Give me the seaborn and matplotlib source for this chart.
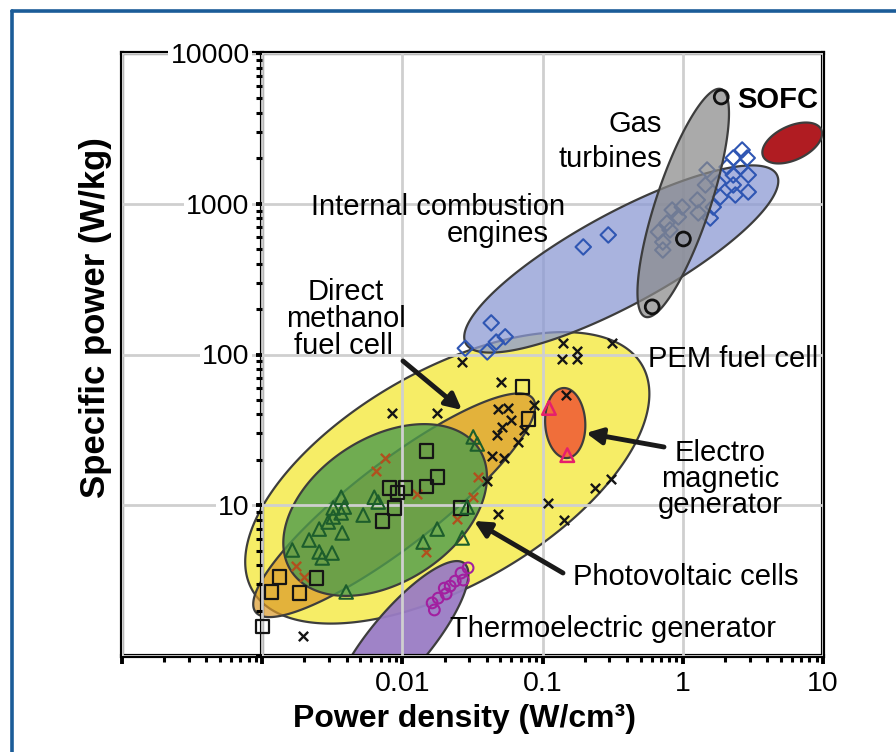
import numpy as np
import matplotlib
matplotlib.use("Agg")
import matplotlib.pyplot as plt
import seaborn as sns
from matplotlib.ticker import FixedLocator, FixedFormatter, LogLocator, NullFormatter
from matplotlib.lines import Line2D
from matplotlib.colors import to_rgba

sns.set_theme(style="white")
plt.rcParams["font.family"] = ["Liberation Sans", "DejaVu Sans"]

# ---------------- data (power density W/cm3, specific power W/kg) ----------------
pem_x = [0.0267, 0.140, 0.177, 0.138, 0.177, 0.313, 0.0507, 0.147, 0.0871, 0.0482, 0.0569,
         0.0597, 0.0515, 0.0474, 0.0740, 0.0670, 0.0438, 0.0532, 0.0403, 0.237, 0.308, 0.110,
         0.0482, 0.143, 0.00845, 0.0177, 0.00196]
pem_y = [89.1, 119, 105, 93.3, 93.3, 119, 65.7, 53.9, 46.2, 43.5, 44.2, 36.8, 33.0, 29.2, 31.6,
         26.3, 21.2, 20.6, 14.5, 13.0, 14.9, 10.3, 8.75, 7.98, 40.9, 40.9, 1.36]

dmfc_x = [0.00753, 0.00650, 0.01277, 0.0348, 0.0320, 0.0246, 0.0148, 0.00175, 0.00200]
dmfc_y = [20.6, 16.9, 11.9, 15.4, 11.3, 8.11, 4.90, 3.95, 3.34]

sq_x = [0.0148, 0.0177, 0.0148, 0.01047, 0.00806, 0.00918, 0.00874, 0.00718, 0.0262, 0.00132,
        0.00243, 0.00116, 0.00184, 0.00100, 0.0716, 0.0788]
sq_y = [22.9, 15.4, 13.4, 13.0, 13.0, 12.1, 9.59, 7.86, 9.59, 3.34, 3.29, 2.66, 2.62, 1.56, 60.9, 37.3]

pv_x = [0.00366, 0.00321, 0.00385, 0.00366, 0.00321, 0.00296, 0.00255, 0.00372, 0.00525, 0.00630,
        0.00672, 0.00216, 0.00164, 0.00255, 0.00268, 0.00315, 0.00397, 0.01406, 0.0177, 0.0290,
        0.0267, 0.0320, 0.0342]
pv_y = [11.3, 9.59, 9.73, 8.89, 8.36, 7.74, 6.95, 6.55, 8.61, 11.3, 10.5, 5.88, 5.05, 4.90, 4.47,
        4.82, 2.66, 5.70, 6.95, 9.73, 6.07, 28.4, 25.5]

te_x = [0.0294, 0.0262, 0.0272, 0.0238, 0.0219, 0.0199, 0.0205, 0.0180, 0.0163, 0.0169]
te_y = [3.84, 3.55, 3.19, 3.14, 2.91, 2.82, 2.58, 2.42, 2.25, 2.02]

em_x = [0.111, 0.150]
em_y = [44.2, 21.5]

ice_x = [0.195, 0.294, 0.0430, 0.0541, 0.0467, 0.0403, 0.0281, 2.65, 2.88, 2.29, 2.07, 2.57, 2.93,
         2.29, 1.79, 2.29, 2.93, 2.37, 1.85, 1.65, 1.57, 1.49, 1.45, 1.27, 1.29, 0.99, 0.84, 0.93,
         0.77, 0.67, 0.81, 0.72, 0.72]
ice_y = [517, 621, 162, 131, 121, 104, 110, 2273, 2012, 2012, 1753, 1753, 1552, 1552, 1373, 1332,
         1197, 1143, 1109, 951, 804, 1675, 1332, 1059, 869, 951, 909, 817, 745, 650, 670, 557, 493]

gt_x = [1.88, 1.01, 0.605]
gt_y = [5108, 584, 207]

# technology regions (centre in data units, semi-axes in decades, tilt in degrees)
ell_names = ["PEM fuel cell", "Direct methanol fuel cell", "Photovoltaic cells",
             "Electromagnetic generator", "Thermoelectric generator",
             "Internal combustion engines", "Gas turbines", "SOFC"]
ell_cx = [0.0209, 0.00874, 0.00753, 0.145, 0.00964, 0.364, 1.007, 6.03]
ell_cy = [15.2, 10.0, 9.30, 35.1, 1.276, 430, 1012, 2529]
ell_a = [1.605, 1.248, 0.799, 0.250, 0.713, 1.262, 0.856, 0.228]
ell_b = [0.763, 0.300, 0.514, 0.143, 0.214, 0.328, 0.193, 0.121]
ell_ang = [30, 37.6, 33, 93, 50, 28.5, 71.6, 25]

x_ticks = [1e-4, 1e-3, 1e-2, 1e-1, 1, 10]
x_labels = ["", "", "0.01", "0.1", "1", "10"]
y_ticks = [1, 10, 100, 1000, 10000]
y_labels = ["", "10", "100", "1000", "10000"]

# ---------------- styles ----------------
ell_fill = ["#f6ed66", "#dc9a2a", "#4f9c4c", "#f06e3a", "#9a7cc4", "#8c9ad4", "#8a8a8a", "#b01c22"]
ell_alpha = [1.0, 0.7, 0.8, 1.0, 0.95, 0.75, 0.72, 1.0]
ell_z = [1.0, 1.3, 1.6, 3.0, 1.8, 3.0, 3.5, 3.0]

W, H = 896, 752
fig = plt.figure(figsize=(W / 100, H / 100), dpi=100)
ax = fig.add_axes([122 / W, (H - 656) / H, 701 / W, 603 / H])
ax.set_xscale("log")
ax.set_yscale("log")
ax.set_xlim(1e-4, 10)
ax.set_ylim(1, 1e4)

# decade aspect in display units
xdec = 701 / 5.0
ydec = 603 / 4.0
kx = xdec / ydec


def ellipse_xy(cx, cy, a, b, ang):
    t = np.linspace(0, 2 * np.pi, 400)
    th = np.deg2rad(ang)
    u = a * np.cos(t) * np.cos(th) - b * np.sin(t) * np.sin(th)
    v = a * np.cos(t) * np.sin(th) + b * np.sin(t) * np.cos(th)
    return 10 ** (np.log10(cx) + u), 10 ** (np.log10(cy) + v * kx)


for i in range(len(ell_names)):
    ex, ey = ellipse_xy(ell_cx[i], ell_cy[i], ell_a[i], ell_b[i], ell_ang[i])
    ax.fill(ex, ey, facecolor=to_rgba(ell_fill[i], ell_alpha[i]),
            edgecolor="#3d3d3d", lw=1.6, zorder=ell_z[i])

# ---------------- markers ----------------
sns.scatterplot(x=pem_x, y=pem_y, ax=ax, marker="x", s=45, color="#151515", linewidth=1.7, zorder=5)
sns.scatterplot(x=dmfc_x, y=dmfc_y, ax=ax, marker="x", s=45, color="#b0501e", linewidth=1.7, zorder=5)
sns.scatterplot(x=sq_x, y=sq_y, ax=ax, marker="s", s=90, facecolors="none", edgecolor="#151515",
                linewidth=1.6, zorder=5)
sns.scatterplot(x=pv_x, y=pv_y, ax=ax, marker="^", s=95, facecolors="none", edgecolor="#1d5e2c",
                linewidth=1.5, zorder=5)
sns.scatterplot(x=te_x, y=te_y, ax=ax, marker="o", s=60, facecolors="none", edgecolor="#a21fa0",
                linewidth=1.5, zorder=5)
sns.scatterplot(x=em_x, y=em_y, ax=ax, marker="^", s=95, facecolors="none", edgecolor="#e61f6c",
                linewidth=1.8, zorder=5)
sns.scatterplot(x=ice_x, y=ice_y, ax=ax, marker="D", s=62, facecolors="none", edgecolor="#2f56b3",
                linewidth=1.5, zorder=3.2)
sns.scatterplot(x=gt_x, y=gt_y, ax=ax, marker="o", s=100, facecolors="none", edgecolor="#111111",
                linewidth=2.0, zorder=5)

# ---------------- axes styling ----------------
ax.set_axisbelow(False)
ax.grid(True, which="major", color="#cfcfcf", lw=2.0)
ax.grid(False, which="minor")
for side in ["left", "right", "top", "bottom"]:
    ax.spines[side].set_visible(True)
    ax.spines[side].set_color("black")
    ax.spines[side].set_linewidth(3)
ax.spines["left"].set_position(("data", 1e-3))
ax.add_artist(Line2D([0, 0], [0, 1], transform=ax.transAxes, color="black", lw=3,
                     clip_on=False, solid_capstyle="projecting", zorder=2.5))

ax.xaxis.set_major_locator(FixedLocator(x_ticks))
ax.xaxis.set_major_formatter(FixedFormatter(x_labels))
ax.xaxis.set_minor_locator(LogLocator(base=10, subs=np.arange(2, 10), numticks=20))
ax.xaxis.set_minor_formatter(NullFormatter())
ax.yaxis.set_major_locator(FixedLocator(y_ticks))
ax.yaxis.set_major_formatter(FixedFormatter(y_labels))
ax.yaxis.set_minor_locator(LogLocator(base=10, subs=np.arange(2, 10), numticks=20))
ax.yaxis.set_minor_formatter(NullFormatter())

ax.tick_params(axis="x", which="major", bottom=True, top=False, direction="out", length=6,
               width=2.8, labelsize=20.5, pad=5, colors="black")
ax.tick_params(axis="x", which="minor", bottom=True, top=False, direction="out", length=4.5,
               width=2.2, colors="black")
ax.tick_params(axis="y", which="major", left=True, right=False, direction="out", length=4,
               width=2.8, labelsize=20.5, pad=5, colors="black")
ax.tick_params(axis="y", which="minor", left=True, right=False, direction="out", length=4,
               width=2.2, colors="black")
for lbl in ax.get_yticklabels():
    lbl.set_bbox(dict(facecolor="white", edgecolor="none", pad=1.5))

ax.set_xlabel("Power density (W/cm³)", fontsize=23, fontweight="bold", color="black")
ax.set_ylabel("Specific power (W/kg)", fontsize=25, fontweight="bold", color="black")
ax.xaxis.set_label_coords(0.488, -0.080)
ax.yaxis.set_label_coords(-0.0143, 0.5605)


# ---------------- annotations (layout in figure pixels) ----------------
def fpx(px, py):
    return (px / W, 1 - py / H)


txt = dict(fontsize=21, color="black", va="baseline", zorder=6)
fig.text(*fpx(438, 215), "Internal combustion", ha="center", **txt)
fig.text(*fpx(498, 242), "engines", ha="center", **txt)
fig.text(*fpx(662, 132), "Gas", ha="right", **txt)
fig.text(*fpx(662, 167), "turbines", ha="right", **txt)
fig.text(*fpx(737, 108), "SOFC", ha="left", fontweight="bold", **txt)
fig.text(*fpx(346, 300), "Direct", ha="center", **txt)
fig.text(*fpx(346, 327), "methanol", ha="center", **txt)
fig.text(*fpx(343, 354), "fuel cell", ha="center", **txt)
fig.text(*fpx(648, 367), "PEM fuel cell", ha="left", **txt)
fig.text(*fpx(720, 461), "Electro", ha="center", **txt)
fig.text(*fpx(720, 487), "magnetic", ha="center", **txt)
fig.text(*fpx(720, 513), "generator", ha="center", **txt)
fig.text(*fpx(573, 585), "Photovoltaic cells", ha="left", **txt)
fig.text(*fpx(450, 637), "Thermoelectric generator", ha="left", **txt)

arrow = dict(arrowstyle="-|>", color="#1a1a1a", lw=3.5, mutation_scale=24, shrinkA=0, shrinkB=0)
for tail, head in [((403, 361), (462, 410)), ((664, 447), (586, 433)), ((563, 573), (474, 521))]:
    ax.annotate("", xy=fpx(*head), xytext=fpx(*tail), xycoords="figure fraction",
                textcoords="figure fraction", arrowprops=arrow, zorder=6)

# blue frame of the figure
fig.add_artist(Line2D([11.5 / W, 11.5 / W], [0, 1 - 11 / H], transform=fig.transFigure,
                      color="#1b5c98", lw=2.6))
fig.add_artist(Line2D([11.5 / W, 1], [1 - 11 / H, 1 - 11 / H], transform=fig.transFigure,
                      color="#1b5c98", lw=2.6))

fig.savefig("out.png", dpi=100)
